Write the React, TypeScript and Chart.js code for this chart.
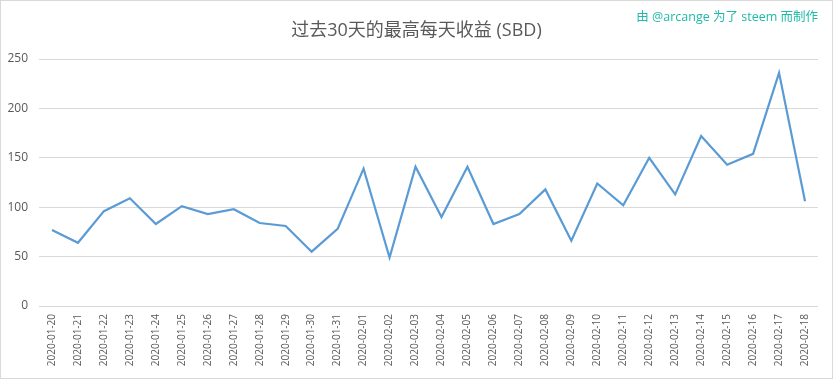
import React, { useEffect, useRef } from "react";
import { Chart, registerables } from "chart.js";

Chart.register(...registerables);

const categories = [
  "2020-01-20", "2020-01-21", "2020-01-22", "2020-01-23", "2020-01-24",
  "2020-01-25", "2020-01-26", "2020-01-27", "2020-01-28", "2020-01-29",
  "2020-01-30", "2020-01-31", "2020-02-01", "2020-02-02", "2020-02-03",
  "2020-02-04", "2020-02-05", "2020-02-06", "2020-02-07", "2020-02-08",
  "2020-02-09", "2020-02-10", "2020-02-11", "2020-02-12", "2020-02-13",
  "2020-02-14", "2020-02-15", "2020-02-16", "2020-02-17", "2020-02-18",
];
const values = [
  77, 64, 96, 109, 83, 101, 93, 98, 84, 81,
  55, 78, 139, 49, 141, 90, 141, 83, 93, 118,
  66, 124, 102, 150, 113, 172, 143, 154, 236, 106,
];
const yTickValues = [0, 50, 100, 150, 200, 250];
const titleText = "过去30天的最高每天收益 (SBD)";
const creditText = "由 @arcange 为了 steem 而制作";

const FONT = "'Open Sans', 'Noto Sans CJK SC', sans-serif";

export default function App() {
  const ref = useRef<HTMLCanvasElement | null>(null);

  useEffect(() => {
    const canvas = ref.current;
    if (!canvas) return;

    const textPlugin = {
      id: "texts",
      afterDraw(chart: any) {
        const ctx = chart.ctx;
        const w = chart.width;
        const h = chart.height;
        ctx.save();
        ctx.strokeStyle = "#d9d9d9";
        ctx.lineWidth = 1;
        ctx.strokeRect(0.5, 0.5, w - 1, h - 1);
        ctx.fillStyle = "#595959";
        ctx.font = `18px ${FONT}`;
        ctx.textAlign = "center";
        ctx.textBaseline = "middle";
        ctx.fillText(titleText, w / 2, 31);
        ctx.fillStyle = "#1fbaa8";
        ctx.font = `12.5px ${FONT}`;
        ctx.textAlign = "right";
        ctx.fillText(creditText, chart.chartArea.right, 17);
        ctx.restore();
      },
    };

    const chart = new Chart(canvas, {
      type: "line",
      data: {
        labels: categories,
        datasets: [
          {
            data: values,
            borderColor: "#5b9bd5",
            borderWidth: 2.2,
            pointRadius: 0,
            tension: 0,
            fill: false,
          },
        ],
      },
      options: {
        animation: false,
        responsive: false,
        maintainAspectRatio: false,
        layout: { padding: { top: 59, right: 15, bottom: 0, left: 0 } },
        plugins: {
          legend: { display: false },
          title: { display: false },
          tooltip: { enabled: false },
        },
        scales: {
          x: {
            offset: true,
            grid: { display: false, drawTicks: false },
            border: { display: false },
            ticks: {
              autoSkip: false,
              minRotation: 90,
              maxRotation: 90,
              padding: 8,
              color: "#595959",
              font: { family: FONT, size: 10 },
            },
            afterFit(scale: any) {
              scale.height = 73;
            },
          },
          y: {
            min: 0,
            max: 250,
            grid: { color: "#d9d9d9", lineWidth: 1, drawTicks: false },
            border: { display: false },
            ticks: {
              padding: 11,
              color: "#595959",
              font: { family: FONT, size: 12 },
            },
            afterBuildTicks(scale: any) {
              scale.ticks = yTickValues.map((v) => ({ value: v }));
            },
            afterFit(scale: any) {
              scale.width = 39;
            },
          },
        },
      },
      plugins: [textPlugin],
    });

    return () => chart.destroy();
  }, []);

  return (
    <div style={{ position: "absolute", left: 0, top: 0, width: 833, height: 379, background: "#fff" }}>
      <canvas ref={ref} width={833} height={379} style={{ width: 833, height: 379, display: "block" }} />
    </div>
  );
}
